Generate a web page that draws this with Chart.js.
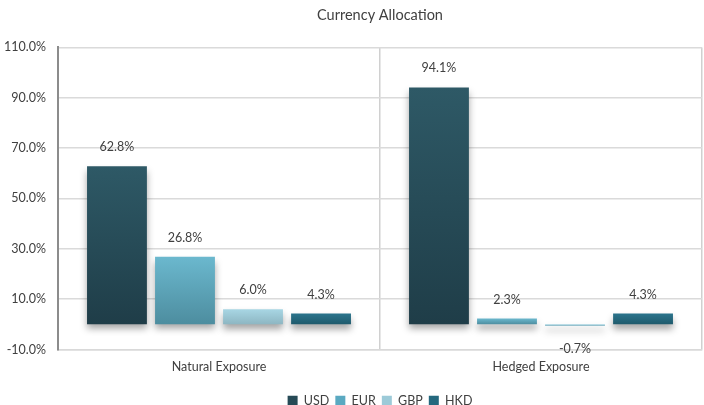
<!DOCTYPE html>
<html><head><meta charset="utf-8">
<script src="https://cdn.jsdelivr.net/npm/chart.js@4/dist/chart.umd.min.js"></script>
<style>html,body{margin:0;padding:0;background:#fff;}#wrap{width:704px;height:405px;}</style>
</head><body><div id="wrap"><canvas id="c"></canvas></div>
<script>
const categories = ["Natural Exposure", "Hedged Exposure"];
const seriesNames = ["USD", "EUR", "GBP", "HKD"];
const usd = [62.8, 94.1];
const eur = [26.8, 2.3];
const gbp = [6.0, -0.7];
const hkd = [4.3, 4.3];
const yTicks = [-10, 10, 30, 50, 70, 90, 110];

const FONT = 'Lato, "Open Sans", sans-serif';
const gradStops = [
  ["#2e5966", "#1f3d48"],
  ["#6bb8ce", "#4d8d9f"],
  ["#a8d6e4", "#8db6c2"],
  ["#2b748c", "#1f5a6c"]
];
const legendCols = ["#264a56", "#5aa9c1", "#9ccad8", "#24687e"];

function makeBg(i){
  return function(ctx){
    const chart = ctx.chart;
    if (ctx.type !== 'data') return legendCols[i];
    const y = chart.scales.y;
    if (!y || !chart.chartArea) return legendCols[i];
    const v = ctx.raw;
    const top = y.getPixelForValue(Math.max(v,0));
    const bot = y.getPixelForValue(Math.min(v,0));
    if (!isFinite(top) || !isFinite(bot) || top === bot) return gradStops[i][0];
    const g = chart.ctx.createLinearGradient(0, top, 0, bot);
    g.addColorStop(0, gradStops[i][0]);
    g.addColorStop(1, gradStops[i][1]);
    return g;
  };
}

const shadowPlugin = {
  id: 'shadow',
  beforeDatasetsDraw(chart){
    const c = chart.ctx; c.save();
    c.shadowColor = 'rgba(0,0,0,0.35)';
    c.shadowBlur = 7; c.shadowOffsetX = 0; c.shadowOffsetY = 5;
  },
  afterDatasetsDraw(chart){
    chart.ctx.restore();
    const c = chart.ctx;
    c.save();
    c.font = '12.5px ' + FONT;
    c.fillStyle = '#404040';
    c.textAlign = 'center';
    c.textBaseline = 'middle';
    chart.data.datasets.forEach((ds, di) => {
      const meta = chart.getDatasetMeta(di);
      meta.data.forEach((bar, j) => {
        const v = ds.data[j];
        const y = v >= 0 ? bar.y - 19 : bar.y + 23;
        c.fillText(v.toFixed(1) + '%', bar.x, y);
      });
    });
    c.restore();
  }
};

new Chart(document.getElementById('c'), {
  type: 'bar',
  data: {
    labels: categories,
    datasets: [usd, eur, gbp, hkd].map((d, i) => ({
      label: seriesNames[i],
      data: d,
      backgroundColor: makeBg(i),
      borderWidth: 0,
      categoryPercentage: 0.845,
      barPercentage: 0.88
    }))
  },
  options: {
    responsive: true,
    maintainAspectRatio: false,
    animation: false,
    layout: { padding: { left: 5, right: 2, top: 0, bottom: -12 } },
    plugins: {
      title: { display: true, fullSize: false, text: 'Currency Allocation', color: '#404040',
        font: { family: FONT, size: 14.5, weight: 'normal' },
        padding: { top: 7, bottom: 23 } },
      legend: { position: 'bottom', fullSize: false,
        labels: { boxWidth: 10, boxHeight: 10, color: '#404040', padding: 6,
          font: { family: FONT, size: 12.5 },
          generateLabels(chart){
            return seriesNames.map((n, i) => ({ text: n, fillStyle: legendCols[i], strokeStyle: legendCols[i], lineWidth: 0, datasetIndex: i, fontColor: '#404040' }));
          } } },
      tooltip: { enabled: false }
    },
    scales: {
      x: {
        afterFit(axis){ axis.height = 39; },
        grid: { display: true, offset: true, color: '#d0d0d0', lineWidth: 1.5, drawTicks: false },
        border: { display: true, color: '#d9d9d9', width: 1.5 },
        ticks: { color: '#404040', padding: 10, font: { family: FONT, size: 12.5 } }
      },
      y: {
        min: -10, max: 110,
        afterFit(axis){ axis.width = 53; },
        afterBuildTicks(axis){ axis.ticks = yTicks.map(v => ({ value: v })); },
        grid: {
          color: (c) => c.tick && c.tick.value === 0 ? '#8c8c8c' : '#dadada',
          lineWidth: (c) => c.tick && c.tick.value === 0 ? 2 : 1.5,
          drawTicks: false
        },
        border: { display: true, color: '#8c8c8c', width: 2 },
        ticks: { color: '#404040', padding: 12,
          font: { family: FONT, size: 12.5 },
          callback: (v) => Number(v).toFixed(1) + '%' }
      }
    }
  },
  plugins: [shadowPlugin]
});
</script></body></html>
